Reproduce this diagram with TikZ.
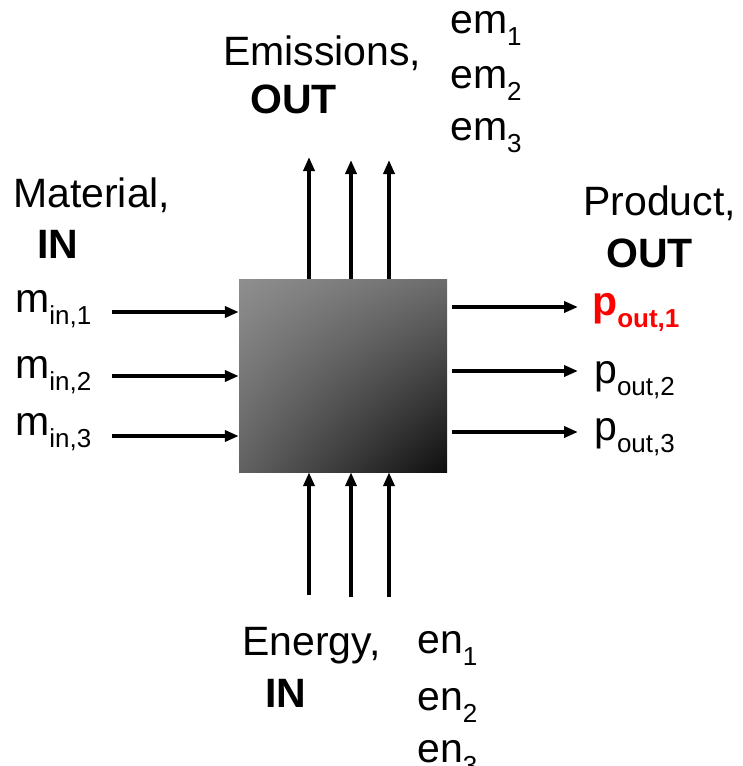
\documentclass[tikz,border=0pt]{standalone}
\usepackage{fontspec}
\setmainfont{Liberation Sans}
\usepackage{tikz}
\usetikzlibrary{arrows.meta,positioning,shadings}
\definecolor{boxul}{HTML}{8F8F8F}
\definecolor{boxur}{HTML}{6C6C6C}
\definecolor{boxll}{HTML}{626262}
\definecolor{boxlr}{HTML}{0E0E0E}
\definecolor{hilite}{HTML}{FF0000}
\newcommand{\lowsub}[1]{\raisebox{-12pt}{\fontsize{26}{26}\selectfont #1}}

\begin{document}
\begin{tikzpicture}[x=1pt,y=-1pt,
  procbox/.style={minimum width=208pt,minimum height=193pt,inner sep=0pt,shade,
    upper left=boxul,upper right=boxur,lower left=boxll,lower right=boxlr},
  flow/.style={-{Triangle[length=14pt,width=11pt]},line width=3.5pt},
  lab/.style={font=\fontsize{41}{48}\selectfont,inner sep=0pt,anchor=base west}
]
  \useasboundingbox (0,0) rectangle (742,766);
  \node[procbox] (proc) at (343,375.5) {};
  % group headings
  \node[lab] (mat) at (13,207) {Material,};
  \node[lab] (matin) at (37,258) {\bfseries IN};
  \node[lab] (emis) at (223,65) {Emissions,};
  \node[lab] (emisout) at (250,113) {\bfseries OUT};
  \node[lab] (prod) at (583,215) {Product,};
  \node[lab] (prodout) at (606,267) {\bfseries OUT};
  \node[lab] (ener) at (242,655) {Energy,};
  \node[lab] (enerin) at (265,707) {\bfseries IN};
  % stream names
  \node[lab] (m1) at (15,312) {m\lowsub{in,1}};
  \node[lab] (m2) at (15,378) {m\lowsub{in,2}};
  \node[lab] (m3) at (15,435) {m\lowsub{in,3}};
  \node[lab] (p1) at (592,315) {\color{hilite}\bfseries p\lowsub{out,1}};
  \node[lab] (p2) at (594,383) {p\lowsub{out,2}};
  \node[lab] (p3) at (594,440) {p\lowsub{out,3}};
  \node[lab] (em1) at (450,33) {em\lowsub{1}};
  \node[lab] (em2) at (450,88) {em\lowsub{2}};
  \node[lab] (em3) at (450,140) {em\lowsub{3}};
  \node[lab] (en1) at (417,653) {en\lowsub{1}};
  \node[lab] (en2) at (417,710) {en\lowsub{2}};
  \node[lab] (en3) at (417,762) {en\lowsub{3}};
  % free ends of the flows
  \coordinate (mi1) at (112,312);
  \coordinate (mi2) at (112,376);
  \coordinate (mi3) at (112,436);
  \coordinate (po1) at (578,307);
  \coordinate (po2) at (578,371);
  \coordinate (po3) at (578,432);
  \coordinate (eo1) at (309,157);
  \coordinate (eo2) at (351,160);
  \coordinate (eo3) at (389,160);
  \coordinate (ei1) at (309,595);
  \coordinate (ei2) at (351,597);
  \coordinate (ei3) at (389,597);
  % flows
  \draw[flow] (mi1) -- (proc.west |- mi1);
  \draw[flow] (mi2) -- (proc.west |- mi2);
  \draw[flow] (mi3) -- (proc.west |- mi3);
  \draw[flow,shorten <=5pt] (proc.east |- po1) -- (po1);
  \draw[flow,shorten <=5pt] (proc.east |- po2) -- (po2);
  \draw[flow,shorten <=5pt] (proc.east |- po3) -- (po3);
  \draw[flow] (proc.north -| eo1) -- (eo1);
  \draw[flow] (proc.north -| eo2) -- (eo2);
  \draw[flow] (proc.north -| eo3) -- (eo3);
  \draw[flow] (ei1) -- (proc.south -| ei1);
  \draw[flow] (ei2) -- (proc.south -| ei2);
  \draw[flow] (ei3) -- (proc.south -| ei3);
\end{tikzpicture}
\end{document}
